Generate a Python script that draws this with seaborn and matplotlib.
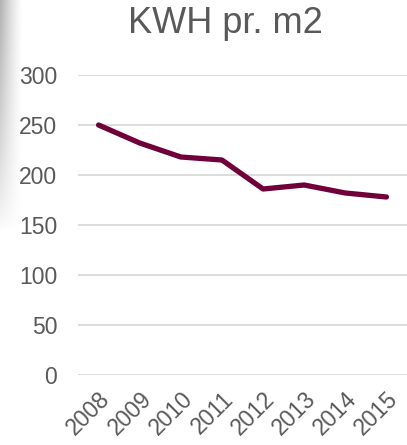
import numpy as np
import pandas as pd
import matplotlib
matplotlib.use("Agg")
import matplotlib.pyplot as plt
import seaborn as sns

years = ["2008", "2009", "2010", "2011", "2012", "2013", "2014", "2015"]
kwh = [250, 232, 218, 215, 186, 190, 182, 178]
yticks = [0, 50, 100, 150, 200, 250, 300]
title = "KWH pr. m2"

sns.set_theme(style="white")
plt.rcParams['font.family'] = ['Liberation Sans', 'DejaVu Sans']

df = pd.DataFrame({"year": years, "kwh": kwh})

fig = plt.figure(figsize=(4.07, 4.45), dpi=100)

# left-edge shadow
bg = fig.add_axes([0, 0, 1, 1], zorder=-10)
bg.set_axis_off()
xx = np.linspace(0, 1, 407)
yy = np.linspace(0, 1, 445)
X, Y = np.meshgrid(xx * 407, yy * 445)
horiz = np.clip(1 - X / 22.0, 0, 1) ** 1.3
vert = np.clip(1 - Y / 230.0, 0, 1) ** 0.7
shade = 1 - 0.3 * horiz * vert
img = np.dstack([shade, shade, shade])
bg.imshow(img, extent=[0, 1, 0, 1], aspect='auto', origin='upper')
bg.set_xlim(0, 1)
bg.set_ylim(0, 1)

ax = fig.add_axes([78 / 407, 70 / 445, 329 / 407, 300 / 445])
ax.patch.set_alpha(0)
sns.lineplot(data=df, x="year", y="kwh", ax=ax, color="#70003A", linewidth=3.8,
             sort=False, solid_capstyle="round", solid_joinstyle="round")
ax.set_xlim(-0.5, len(years) - 0.5)
ax.set_ylim(0, 300)
ax.set_yticks(yticks)
ax.set_yticklabels([str(t) for t in yticks])
ax.yaxis.grid(True, color="#D9D9D9", linewidth=1.3)
ax.set_axisbelow(True)
for s in ax.spines.values():
    s.set_visible(False)
ax.set_xlabel("")
ax.set_ylabel("")
ax.tick_params(axis='y', length=0, pad=15, labelsize=16.5, labelcolor="#595959")
ax.tick_params(axis='x', length=0, pad=9, labelsize=16.5, labelcolor="#595959")
for lab in ax.get_xticklabels():
    lab.set_rotation(45)
    lab.set_ha("right")
    lab.set_rotation_mode("anchor")
fig.text(225 / 407, 1 - 33 / 445, title, ha="center", va="baseline",
         fontsize=26, color="#595959")

fig.savefig("out.png", dpi=100)
